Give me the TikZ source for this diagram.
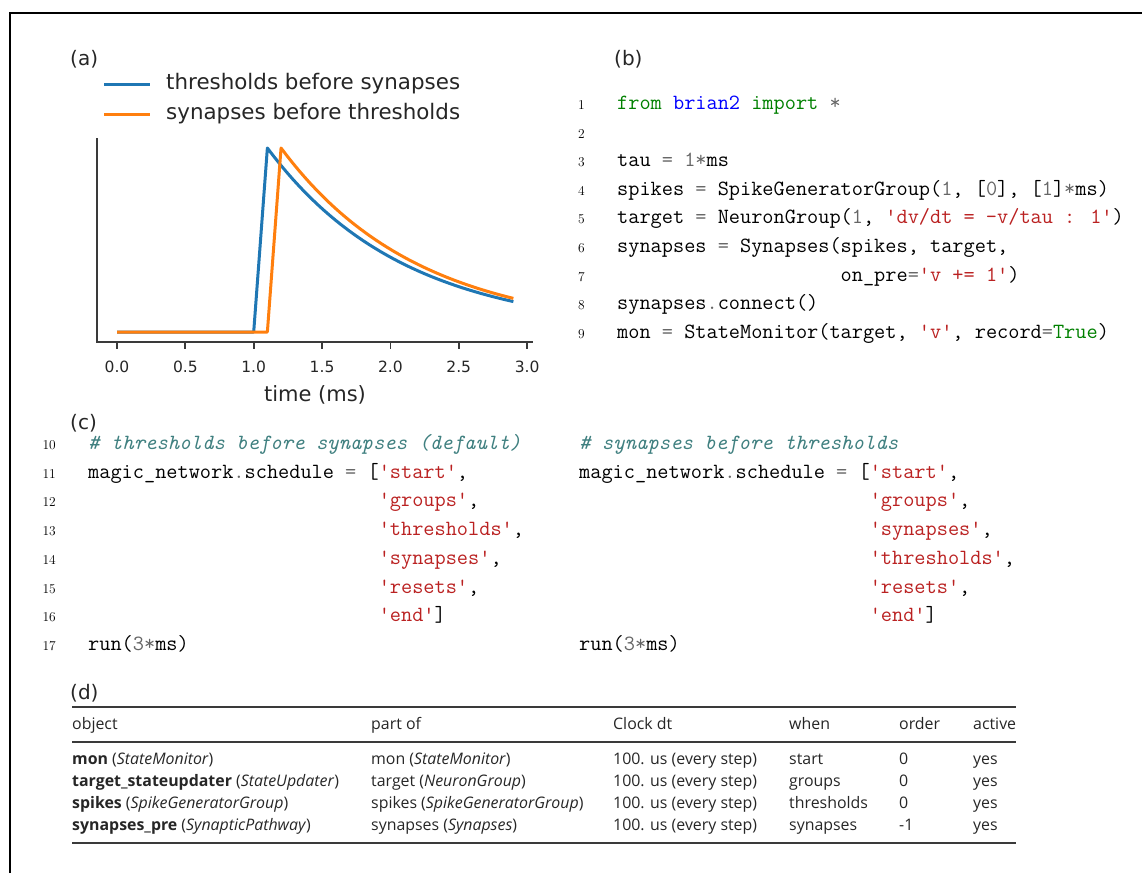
\documentclass[tikz,border=0pt]{standalone}
\usepackage{fontspec}
\usepackage{xcolor}
\newfontfamily\plotfont{DejaVu Sans}
\newfontfamily\tabfont{Open Sans}
\definecolor{mplblue}{HTML}{1F77B4}
\definecolor{mplorange}{HTML}{FF7F0E}
\definecolor{textgray}{HTML}{262626}
\definecolor{axisgray}{HTML}{3A3A3A}
\definecolor{kwgreen}{HTML}{008000}
\definecolor{nsblue}{HTML}{0000FF}
\definecolor{strred}{HTML}{BA2121}
\definecolor{opgray}{HTML}{666666}
\definecolor{cmtteal}{HTML}{408080}
\newcommand\kw[1]{\textcolor{kwgreen}{#1}}
\newcommand\ns[1]{\textcolor{nsblue}{#1}}
\newcommand\op[1]{\textcolor{opgray}{#1}}
\newcommand\pystr[1]{\textcolor{strred}{\textquotesingle#1\textquotesingle}}
\newcommand\cmt[1]{\textcolor{cmtteal}{\itshape #1}}

\begin{document}
\begin{tikzpicture}
    	[x=1pt, y=-1pt,
    	 panel/.style={anchor=base west, inner sep=0, text=textgray, font=\plotfont\fontsize{20}{24}\selectfont},
    	 legtext/.style={anchor=west, inner sep=0, text=textgray, font=\plotfont\fontsize{21.4}{24}\selectfont},
    	 ticklab/.style={anchor=base, inner sep=0, text=textgray, font=\plotfont\fontsize{15.5}{18}\selectfont},
    	 axis/.style={draw=axisgray, line width=1.8pt},
    	 curve/.style={line width=3pt, line join=round},
    	 code/.style={anchor=base west, inner sep=0, font=\ttfamily\fontsize{21.7}{24}\selectfont},
    	 lnum/.style={anchor=base east, inner sep=0, font=\rmfamily\fontsize{13.5}{15}\selectfont},
    	 cell/.style={anchor=base west, inner sep=0, text=textgray, font=\tabfont\fontsize{15.9}{18}\selectfont},
    	 rule/.style={draw=axisgray, line width=#1}]
    	\useasboundingbox (0,0) rectangle (1142,873);
    	\draw[line width=1.3pt] (10,873) -- (10,13) -- (1142,13);

    	% (a) membrane potential
    	\node (la) at (70,65) [panel] {(a)};
    	\coordinate (legb0) at (104,84);
    	\coordinate (legb1) at (150,84);
    	\coordinate (lego0) at (104,114);
    	\coordinate (lego1) at (150,114);
    	\draw[curve, mplblue] (legb0) -- (legb1);
    	\draw[curve, mplorange] (lego0) -- (lego1);
    	\node (legtb) at (166,84) [legtext] {thresholds before synapses};
    	\node (legto) at (166,114) [legtext] {synapses before thresholds};
    	\draw[axis] (97,138) -- (97,342) -- (533,342);
    	\foreach \t/\lab in {0/0.0, 0.5/0.5, 1/1.0, 1.5/1.5, 2/2.0, 2.5/2.5, 3/3.0} {
    		\draw[axis] ({117+136.7*\t},342) -- ({117+136.7*\t},349);
    		\node (tick\lab) at ({117+136.7*\t},372) [ticklab] {\lab};
    	}
    	\node (xlab) at (315,401) [ticklab, font=\plotfont\fontsize{21}{24}\selectfont] {time (ms)};
    	\begin{scope}[xshift=117pt, yshift=-332pt, x=136.7pt, y=184pt]
    		\draw[curve, mplblue] (0,0) -- (1,0) -- (1.1,1) -- plot[domain=1.1:2.9, samples=40] (\x, {exp(-(\x-1.1))});
    		\draw[curve, mplorange] (0,0) -- (1.1,0) -- (1.2,1) -- plot[domain=1.2:2.9, samples=40] (\x, {exp(-(\x-1.2))});
    	\end{scope}

    	% (b) model code
    	\node (lb) at (614,65) [panel] {(b)};
    	\foreach \n in {1,...,9}
    		\node (nb\n) at (585,{109.5+28.6*(\n-1)}) [lnum] {\n};
    	\node (b1) at (617,109.5) [code] {\kw{from} \ns{brian2} \kw{import} \op{*}};
    	\node (b3) at (617,166.7) [code] {tau \op{=} \op{1*}ms};
    	\node (b4) at (617,195.3) [code] {spikes \op{=} SpikeGeneratorGroup(\op{1}, [\op{0}], [\op{1}]\op{*}ms)};
    	\node (b5) at (617,223.9) [code] {target \op{=} NeuronGroup(\op{1}, \pystr{dv/dt = -v/tau : 1})};
    	\node (b6) at (617,252.5) [code] {synapses \op{=} Synapses(spikes, target,};
    	\node (b7) at (617,281.1) [code] {\hphantom{synapses = Synapses(}on\_pre\op{=}\pystr{v += 1})};
    	\node (b8) at (617,309.7) [code] {synapses\op{.}connect()};
    	\node (b9) at (617,338.3) [code] {mon \op{=} StateMonitor(target, \pystr{v}, record\op{=}\kw{True})};

    	% (c) schedules
    	\node (lc) at (70,429) [panel] {(c)};
    	\foreach \n in {10,...,17}
    		\node (nc\n) at (56,{449.5+28.7*(\n-10)}) [lnum] {\n};
    	\node (c10) at (88,449.5) [code] {\cmt{\# thresholds before synapses (default)}};
    	\node (c11) at (88,478.2) [code] {magic\_network\op{.}schedule \op{=} [\pystr{start},};
    	\node (c12) at (88,506.9) [code] {\hphantom{magic\_network.schedule = [}\pystr{groups},};
    	\node (c13) at (88,535.6) [code] {\hphantom{magic\_network.schedule = [}\pystr{thresholds},};
    	\node (c14) at (88,564.3) [code] {\hphantom{magic\_network.schedule = [}\pystr{synapses},};
    	\node (c15) at (88,593.0) [code] {\hphantom{magic\_network.schedule = [}\pystr{resets},};
    	\node (c16) at (88,621.7) [code] {\hphantom{magic\_network.schedule = [}\pystr{end}]};
    	\node (c17) at (88,650.4) [code] {run(\op{3*}ms)};
    	\node (d10) at (579,449.5) [code] {\cmt{\# synapses before thresholds}};
    	\node (d11) at (579,478.2) [code] {magic\_network\op{.}schedule \op{=} [\pystr{start},};
    	\node (d12) at (579,506.9) [code] {\hphantom{magic\_network.schedule = [}\pystr{groups},};
    	\node (d13) at (579,535.6) [code] {\hphantom{magic\_network.schedule = [}\pystr{synapses},};
    	\node (d14) at (579,564.3) [code] {\hphantom{magic\_network.schedule = [}\pystr{thresholds},};
    	\node (d15) at (579,593.0) [code] {\hphantom{magic\_network.schedule = [}\pystr{resets},};
    	\node (d16) at (579,621.7) [code] {\hphantom{magic\_network.schedule = [}\pystr{end}]};
    	\node (d17) at (579,650.4) [code] {run(\op{3*}ms)};

    	% (d) scheduling table
    	\node (ld) at (70,699) [panel] {(d)};
    	\draw[rule=2pt] (72,707) -- (1016,707);
    	\draw[rule=1.2pt] (72,742) -- (1016,742);
    	\draw[rule=2pt] (72,843) -- (1016,843);
    	\node (hobj) at (72,729) [cell] {object};
    	\node (hpart) at (371,729) [cell] {part of};
    	\node (hclock) at (613,729) [cell] {Clock dt};
    	\node (hwhen) at (789,729) [cell] {when};
    	\node (horder) at (899,729) [cell] {order};
    	\node (hactive) at (973,729) [cell] {active};
    	\foreach \y/\obj/\part/\when/\ord in {
    		764/{\textbf{mon} (\textit{StateMonitor})}/{mon (\textit{StateMonitor})}/start/0,
    		786/{\textbf{target\_stateupdater} (\textit{StateUpdater})}/{target (\textit{NeuronGroup})}/groups/0,
    		808/{\textbf{spikes} (\textit{SpikeGeneratorGroup})}/{spikes (\textit{SpikeGeneratorGroup})}/thresholds/0,
    		830/{\textbf{synapses\_pre} (\textit{SynapticPathway})}/{synapses (\textit{Synapses})}/synapses/-1} {
    		\node (obj\y) at (72,\y) [cell] {\obj};
    		\node (part\y) at (371,\y) [cell] {\part};
    		\node (clock\y) at (613,\y) [cell] {100. us (every step)};
    		\node (when\y) at (789,\y) [cell] {\when};
    		\node (order\y) at (899,\y) [cell] {\ord};
    		\node (active\y) at (973,\y) [cell] {yes};
    	}
\end{tikzpicture}
\end{document}
